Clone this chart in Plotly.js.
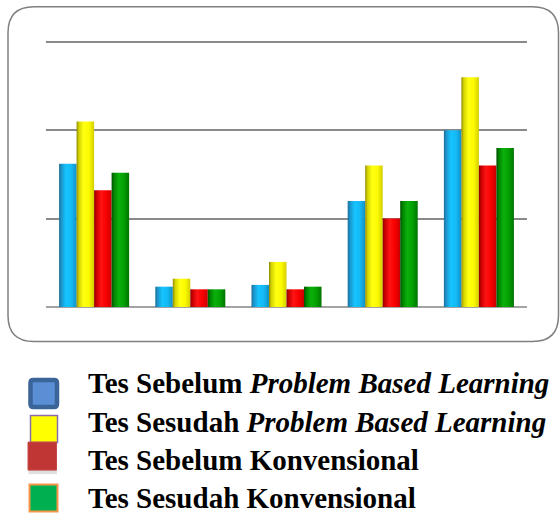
<!DOCTYPE html>
<html>
<head>
<meta charset="utf-8">
<script src="https://cdn.plot.ly/plotly-3.0.1.min.js"></script>
<style>
html,body{margin:0;padding:0;background:#fff;}
#chart{width:560px;height:514px;}
</style>
</head>
<body>
<div id="chart"></div>
<script>
// ---- data ----
const categories = ['1', '2', '3', '4', '5'];
const sebelumPBL = [16.2, 2.3, 2.5, 12.0, 20.0];
const sesudahPBL = [21.0, 3.2, 5.1, 16.0, 26.0];
const sebelumKonv = [13.2, 2.0, 2.0, 10.0, 16.0];
const sesudahKonv = [15.2, 2.0, 2.3, 12.0, 18.0];
const seriesNames = [
  'Tes Sebelum Problem Based Learning',
  'Tes Sesudah Problem Based Learning',
  'Tes Sebelum Konvensional',
  'Tes Sesudah Konvensional'
];
const legendLabels = [
  'Tes Sebelum <i>Problem Based Learning</i>',
  'Tes Sesudah <i>Problem Based Learning</i>',
  'Tes Sebelum Konvensional',
  'Tes Sesudah Konvensional'
];
const yTicks = [0, 10, 20, 30];

// ---- styles ----
const baseColors = ['#18c0fb', '#ffff00', '#ff0000', '#00a300'];
const gradStops = [
  ['#1f6e98', '#1a96cc', '#16c4ff', '#14baf5', '#128fc4'],
  ['#8f8a00', '#d6d400', '#ffff12', '#fdfb00', '#d2ce00'],
  ['#8a0000', '#cc0000', '#ff1414', '#f80000', '#c80000'],
  ['#004f00', '#008300', '#0bb00b', '#04a004', '#007400']
];

const W = 560, H = 514;
const YMAX = 31;
const BASE = 307, TOPGRID = 42;          // pixel rows of value 0 and value 30
const unitPx = (BASE - TOPGRID) / 30;
const M = {l: 46, r: 33, t: BASE - YMAX * unitPx, b: H - BASE};
const PW = W - M.l - M.r, PH = H - M.t - M.b;
function px(x) { return (x - M.l) / PW; }
function py(y) { return (H - M.b - y) / PH; }
function pt(x, y) { return px(x).toFixed(5) + ',' + py(y).toFixed(5); }

function roundRectPath(x0, y0, x1, y1, r) {
  return 'M' + pt(x0 + r, y0) + ' L' + pt(x1 - r, y0) +
    ' Q' + pt(x1, y0) + ' ' + pt(x1, y0 + r) +
    ' L' + pt(x1, y1 - r) +
    ' Q' + pt(x1, y1) + ' ' + pt(x1 - r, y1) +
    ' L' + pt(x0 + r, y1) +
    ' Q' + pt(x0, y1) + ' ' + pt(x0, y1 - r) +
    ' L' + pt(x0, y0 + r) +
    ' Q' + pt(x0, y0) + ' ' + pt(x0 + r, y0) + ' Z';
}

const seriesData = [sebelumPBL, sesudahPBL, sebelumKonv, sesudahKonv];
const traces = seriesData.map((vals, i) => ({
  type: 'bar',
  x: categories,
  y: vals,
  name: seriesNames[i],
  marker: {color: baseColors[i], line: {width: 0}},
  hoverinfo: 'none'
}));

const shapes = [
  {type: 'path', xref: 'paper', yref: 'paper', layer: 'below',
   path: roundRectPath(8, 7, 558.5, 341.5, 26),
   line: {color: '#7f7f7f', width: 1.5}, fillcolor: 'rgba(0,0,0,0)'},
  // legend markers
  {type: 'path', xref: 'paper', yref: 'paper',
   path: roundRectPath(30.5, 380, 57, 407, 3),
   line: {color: '#3b6499', width: 4.5}, fillcolor: '#5a8fd6'},
  {type: 'rect', xref: 'paper', yref: 'paper',
   x0: px(30.5), x1: px(57.5), y0: py(415.5), y1: py(442.5),
   line: {color: '#8a6cae', width: 1.5}, fillcolor: '#ffff00'},
  {type: 'rect', xref: 'paper', yref: 'paper',
   x0: px(28.5), x1: px(57), y0: py(445), y1: py(474),
   line: {width: 0}, fillcolor: 'rgba(0,0,0,0.12)'},
  {type: 'rect', xref: 'paper', yref: 'paper',
   x0: px(28), x1: px(56.5), y0: py(442), y1: py(470),
   line: {color: '#c44a48', width: 1}, fillcolor: '#bf3634'},
  {type: 'rect', xref: 'paper', yref: 'paper',
   x0: px(29.5), x1: px(57.5), y0: py(484.5), y1: py(511.5),
   line: {color: '#f79646', width: 2}, fillcolor: '#00b050'}
];

const legendCenters = [382.7, 421.7, 460.2, 497.8];
const annotations = legendLabels.map((t, i) => ({
  xref: 'paper', yref: 'paper',
  x: px(85.5), y: py(legendCenters[i]),
  xanchor: 'left', yanchor: 'middle',
  text: '<b>' + t + '</b>',
  showarrow: false,
  font: {family: 'Liberation Serif, Times New Roman, serif', size: 29, color: '#000'}
}));

const layout = {
  width: W, height: H,
  margin: M,
  paper_bgcolor: 'rgba(0,0,0,0)',
  plot_bgcolor: 'rgba(0,0,0,0)',
  barmode: 'group',
  bargap: 0.272,
  bargroupgap: 0,
  showlegend: false,
  xaxis: {showticklabels: false, showgrid: false, zeroline: false, showline: false, ticks: ''},
  yaxis: {range: [0, YMAX], tickvals: yTicks, showticklabels: false, showgrid: true,
          gridcolor: '#8a8a8a', gridwidth: 2, zeroline: true, zerolinecolor: '#a3a3a3',
          zerolinewidth: 2.5, showline: false, ticks: ''},
  shapes: shapes,
  annotations: annotations
};

Plotly.newPlot('chart', traces, layout, {displayModeBar: false, staticPlot: true}).then(gd => {
  const svg = gd.querySelector('.main-svg');
  const NS = 'http://www.w3.org/2000/svg';
  let defs = svg.querySelector('defs');
  if (!defs) { defs = document.createElementNS(NS, 'defs'); svg.insertBefore(defs, svg.firstChild); }
  const offs = [0, 0.14, 0.4, 0.7, 1];
  gradStops.forEach((stops, i) => {
    const g = document.createElementNS(NS, 'linearGradient');
    g.setAttribute('id', 'barGrad' + i);
    g.setAttribute('x1', '0'); g.setAttribute('x2', '1');
    g.setAttribute('y1', '0'); g.setAttribute('y2', '0');
    stops.forEach((c, k) => {
      const s = document.createElementNS(NS, 'stop');
      s.setAttribute('offset', offs[k]);
      s.setAttribute('stop-color', c);
      g.appendChild(s);
    });
    defs.appendChild(g);
  });
  const traceGroups = gd.querySelectorAll('.barlayer .trace.bars');
  traceGroups.forEach((tg, i) => {
    tg.querySelectorAll('.point path').forEach(p => {
      p.style.fill = 'url(#barGrad' + i + ')';
    });
  });
});
</script>
</body>
</html>
